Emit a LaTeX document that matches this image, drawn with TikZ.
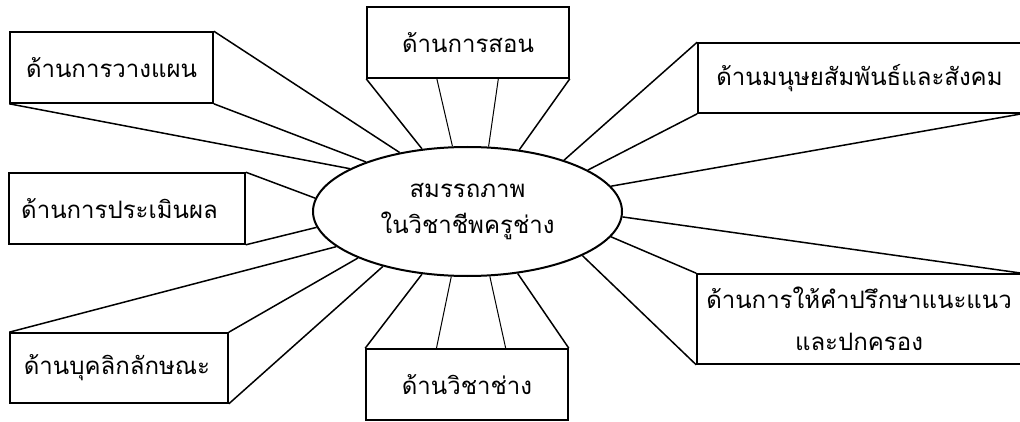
\documentclass[tikz,border=0pt]{standalone}
\usepackage{fontspec}
\newfontfamily\thaifont[Script=Thai]{Loma}
\usetikzlibrary{shapes.geometric,calc}
\begin{document}
\begin{tikzpicture}[x=1pt,y=-1pt,
  box/.style={draw=black,line width=1.6pt,fill=white,rectangle,inner sep=0pt,font=\thaifont\fontsize{24}{30}\selectfont,align=center},
  ray/.style={draw=black,line width=1.5pt},
  thinray/.style={draw=black,line width=1pt},
  hub/.style={draw=black,line width=2pt,ellipse,inner sep=0pt,minimum width=309pt,minimum height=129pt,font=\thaifont\fontsize{24}{36}\selectfont,align=center}]
\useasboundingbox (0,0) rectangle (1020,422);
\node[hub] (e) at (467.5,211.5) {สมรรถภาพ\\ในวิชาชีพครูช่าง};
\node[box,minimum width=203pt,minimum height=71pt] (A) at (111.5,67.5) {ด้านการวางแผน};
\node[box,minimum width=202pt,minimum height=71pt] (B) at (468,42.5) {ด้านการสอน};
\node[box,minimum width=323pt,minimum height=70pt] (C) at (859.5,78) {ด้านมนุษยสัมพันธ์และสังคม};
\node[box,minimum width=236pt,minimum height=71pt] (D) at (127,208.5) {ด้านการประเมินผล\hspace*{15pt}};
\node[box,minimum width=218pt,minimum height=70pt] (E) at (119,368) {ด้านบุคลิกลักษณะ\hspace*{4pt}};
\node[box,minimum width=202pt,minimum height=71pt] (F) at (467,384.5) {ด้านวิชาช่าง};
\node[box,minimum width=324pt,minimum height=90pt,font=\thaifont\fontsize{24}{42}\selectfont] (G) at (859,319) {ด้านการให้คำปรึกษาแนะแนว\\และปกครอง};
% A
\draw[ray] (A.north east) -- (e.139.4);
\draw[ray] (A.south east) -- (e.154.7);
\draw[ray] (A.south west) -- (e.160.2);
% B
\draw[ray] (B.south west) -- (e.126.8);
\draw[thinray] ($(B.south west)!0.347!(B.south east)$) -- (e.103.5);
\draw[thinray] ($(B.south west)!0.649!(B.south east)$) -- (e.72.4);
\draw[ray] (B.south east) -- (e.50.4);
% C
\draw[ray] (C.north west) -- (e.28.8);
\draw[ray] (C.south west) -- (e.19.85);
\draw[ray] (C.south east) -- (e.10.5);
% D
\draw[ray] (D.north east) -- (e.175.7);
\draw[ray] (D.south east) -- (e.186.9);
% E
\draw[ray] (E.north west) -- (e.195.6);
\draw[ray] (E.north east) -- (e.203.3);
\draw[ray] (E.south east) -- (e.213.8);
% F
\draw[ray] (F.north west) -- (e.234.8);
\draw[thinray] ($(F.north west)!0.35!(F.north east)$) -- (e.256.5);
\draw[thinray] ($(F.north west)!0.69!(F.north east)$) -- (e.289.2);
\draw[ray] (F.north east) -- (e.309.1);
% G
\draw[ray] (G.north east) -- (e.358);
\draw[ray] (G.north west) -- (e.350.6);
\draw[ray] (G.south west) -- (e.339.3);
\end{tikzpicture}
\end{document}
